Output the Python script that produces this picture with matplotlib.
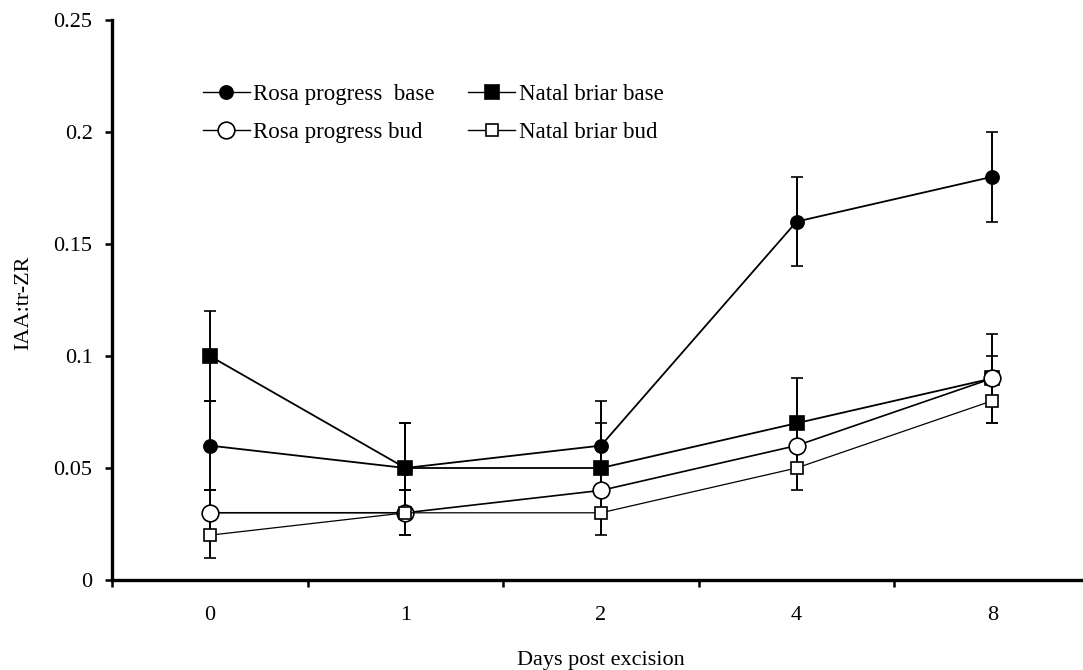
import matplotlib
matplotlib.use("Agg")
import matplotlib.pyplot as plt
from matplotlib.lines import Line2D

plt.rcParams["font.family"] = ["Liberation Serif", "DejaVu Serif"]

days = ["0", "1", "2", "4", "8"]

rosa_base = [0.06, 0.05, 0.06, 0.16, 0.18]
rosa_base_err = [0.02, 0.02, 0.02, 0.02, 0.02]
natal_base = [0.10, 0.05, 0.05, 0.07, 0.09]
natal_base_err = [0.02, 0.02, 0.02, 0.02, 0.01]
rosa_bud = [0.03, 0.03, 0.04, 0.06, 0.09]
rosa_bud_err = [0.01, 0.01, 0.01, 0.01, 0.02]
natal_bud = [0.02, 0.03, 0.03, 0.05, 0.08]
natal_bud_err = [0.01, 0.01, 0.01, 0.01, 0.01]

W, H = 1083, 670
fig = plt.figure(figsize=(W / 100, H / 100), dpi=100)
# axes runs slightly past the right edge, like the category axis it mimics
ax = fig.add_axes([112 / W, 90 / H, 978 / W, 560 / H])

x = list(range(len(days)))

series = [
    ("Rosa progress  base", rosa_base, rosa_base_err, "o", "black", 9.5, 1.3),
    ("Natal briar base", natal_base, natal_base_err, "s", "black", 9.5, 1.3),
    ("Rosa progress bud", rosa_bud, rosa_bud_err, "o", "white", 12, 1.2),
    ("Natal briar bud", natal_bud, natal_bud_err, "s", "white", 9, 0.9),
]

handles = {}
for label, vals, errs, marker, face, ms, lw in series:
    ax.errorbar(x, vals, yerr=errs, color="black", lw=lw,
                marker=marker, ms=ms, mfc=face, mec="black", mew=1.2,
                ecolor="black", elinewidth=1.4, capsize=4, capthick=1.5)
    handles[label] = Line2D([], [], color="black", lw=1.0, marker=marker,
                            ms=ms, mfc=face, mec="black", mew=1.2)

ax.set_xlim(-0.5, 4.5)
ax.set_ylim(0, 0.25)

# tick marks sit between categories, labels at the categories
ax.set_xticks([i - 0.5 for i in range(len(days) + 1)])
ax.set_xticklabels([])
ax.set_xticks(x, minor=True)
ax.set_xticklabels(days, minor=True)
ax.tick_params(axis="x", which="major", direction="out", length=5, width=1.8)
ax.tick_params(axis="x", which="minor", length=0, pad=19, labelsize=16)

ax.set_yticks([0, 0.05, 0.1, 0.15, 0.2, 0.25])
ax.set_yticklabels(["0", "0.05", "0.1", "0.15", "0.2", "0.25"])
ax.tick_params(axis="y", direction="out", length=5, width=1.8, pad=9,
               labelsize=16)

for side in ("top", "right"):
    ax.spines[side].set_visible(False)
for side in ("left", "bottom"):
    ax.spines[side].set_linewidth(2.4)

fig.text(601 / W, 1 - 660 / H, "Days post excision", ha="center",
         va="center", fontsize=16)
fig.text(24 / W, 1 - 303 / H, "IAA:tr-ZR", ha="center", va="center",
         rotation=90, fontsize=16)

order = ["Rosa progress  base", "Rosa progress bud",
         "Natal briar base", "Natal briar bud"]
ax.legend([handles[k] for k in order], order, ncol=2, frameon=False,
          loc="upper left", bbox_to_anchor=(203 / W, 1 - 84 / H),
          bbox_transform=fig.transFigure, borderpad=0,
          borderaxespad=0, handlelength=2.05, handletextpad=0.15,
          columnspacing=1.45, labelspacing=0.75, fontsize=16.5)

fig.savefig("out.png", dpi=100)
